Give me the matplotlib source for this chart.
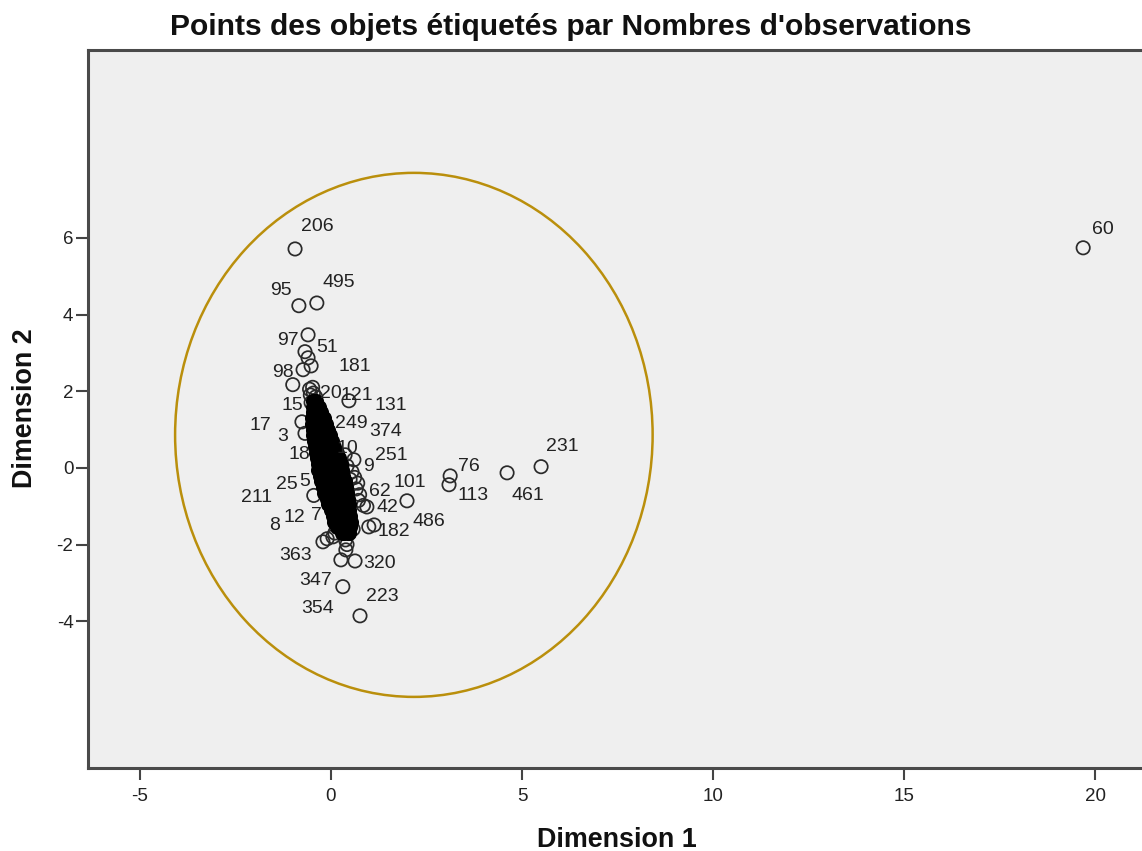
import matplotlib
matplotlib.use("Agg")
import matplotlib.pyplot as plt
from matplotlib.patches import Ellipse

plt.rcParams["font.family"] = ["Liberation Sans", "DejaVu Sans"]
plt.rcParams["axes.unicode_minus"] = False

# dense cluster, one list of x per y level, overplotted so heavily it reads as solid
core_y = [1.75, 1.6, 1.45, 1.3, 1.15, 1.0, 0.85, 0.7, 0.55, 0.4, 0.25, 0.1,
          -0.05, -0.2, -0.35, -0.5, -0.65, -0.8, -0.95, -1.1, -1.25, -1.4, -1.55, -1.7]
core_x = [
    [-0.47, -0.44, -0.38],
    [-0.47, -0.42, -0.32],
    [-0.48, -0.44, -0.35, -0.26],
    [-0.49, -0.45, -0.35, -0.25, -0.18],
    [-0.49, -0.44, -0.34, -0.24, -0.14],
    [-0.48, -0.42, -0.31, -0.2, -0.09],
    [-0.47, -0.41, -0.3, -0.19, -0.08, -0.02],
    [-0.45, -0.39, -0.28, -0.17, -0.06, 0.04],
    [-0.42, -0.36, -0.25, -0.14, -0.03, 0.08],
    [-0.39, -0.33, -0.22, -0.11, 0.0, 0.11, 0.16],
    [-0.37, -0.31, -0.2, -0.09, 0.02, 0.13, 0.2],
    [-0.35, -0.29, -0.18, -0.07, 0.04, 0.15, 0.25],
    [-0.33, -0.27, -0.16, -0.05, 0.06, 0.17, 0.28],
    [-0.29, -0.23, -0.12, -0.01, 0.1, 0.21, 0.32],
    [-0.25, -0.19, -0.08, 0.03, 0.14, 0.25, 0.36],
    [-0.21, -0.15, -0.04, 0.07, 0.18, 0.29, 0.4],
    [-0.17, -0.11, 0.0, 0.11, 0.22, 0.33, 0.42],
    [-0.11, -0.05, 0.06, 0.17, 0.28, 0.38, 0.45],
    [-0.07, -0.01, 0.1, 0.21, 0.32, 0.42, 0.48],
    [-0.01, 0.05, 0.16, 0.27, 0.37, 0.48],
    [0.05, 0.1, 0.2, 0.3, 0.4, 0.5],
    [0.09, 0.14, 0.24, 0.34, 0.44, 0.52],
    [0.15, 0.2, 0.3, 0.4, 0.5],
    [0.29, 0.34, 0.44, 0.48],
]

# points standing clear of the cluster
outer_x = [-0.94, -0.84, -0.37, -0.6, -0.68, -0.6, -0.52, -0.73, -1.0, 0.47, 19.69,
           5.5, 4.61, 3.12, 3.09, 1.99, 1.13, 0.99, 0.94, 0.85, 0.31, 0.76, 0.63, 0.26,
           -0.21, -0.1, 0.39, 0.42, 0.38, 0.6, 0.37, 0.7, 0.75, -0.76, -0.68, -0.45,
           0.55, 0.62, 0.66, 0.72, 0.58, 0.05, 0.1,
           -0.56, -0.48, -0.54, -0.46, -0.4, -0.52, 0.42, 0.5, 0.45]
outer_y = [5.71, 4.23, 4.3, 3.47, 3.03, 2.87, 2.66, 2.56, 2.17, 1.75, 5.74,
           0.03, -0.13, -0.21, -0.44, -0.86, -1.49, -1.54, -1.02, -0.98, -3.1, -3.86, -2.43, -2.4,
           -1.93, -1.85, -2.14, -2.0, -1.88, 0.21, 0.34, -0.4, -0.7, 1.2, 0.9, -0.72,
           -0.1, -0.25, -0.55, -0.85, -1.6, -1.8, -1.7,
           2.05, 2.1, 1.9, 1.95, 1.85, 1.7, 0.05, -0.3, -1.25]

label_names = ["206", "60", "95", "495", "97", "51", "181", "98", "20", "121", "15", "131",
               "17", "249", "374", "3", "10", "18", "251", "9", "76", "231", "25", "5",
               "62", "101", "211", "113", "461", "42", "486", "8", "12", "7", "182",
               "363", "320", "347", "223", "354"]
label_x = [-0.37, 20.2, -1.31, 0.21, -1.13, -0.1, 0.63, -1.26, 0.0, 0.68, -1.02, 1.57,
           -1.86, 0.52, 1.44, -1.26, 0.42, -0.84, 1.57, 0.99, 3.61, 6.05, -1.15, -0.68,
           1.28, 2.07, -1.94, 3.72, 5.16, 1.49, 2.57, -1.47, -0.97, -0.39, 1.65,
           -0.92, 1.26, -0.39, 1.34, -0.34]
label_y = [6.34, 6.28, 4.69, 4.89, 3.37, 3.18, 2.69, 2.53, 1.98, 1.93, 1.69, 1.69,
           1.15, 1.2, 0.99, 0.86, 0.55, 0.39, 0.37, 0.08, 0.08, 0.6, -0.39, -0.31,
           -0.57, -0.34, -0.73, -0.68, -0.68, -0.97, -1.36, -1.46, -1.25, -1.2, -1.62,
           -2.24, -2.45, -2.89, -3.31, -3.61]

x_ticks = [-5, 0, 5, 10, 15, 20]
y_ticks = [-4, -2, 0, 2, 4, 6]
ellipse_center = (2.17, 0.86)
ellipse_width = 12.5
ellipse_height = 13.67

W, H = 1142, 851
fig = plt.figure(figsize=(W / 100, H / 100), dpi=100, facecolor="white")
ax = fig.add_axes([88 / W, 1 - 768 / H, (W - 88) / W, (768 - 50) / H])
ax.set_facecolor("#EFEFEF")
ax.set_xlim(-6.36, 21.23)
ax.set_ylim(-7.83, 10.9)

solid_x = [x for row in core_x for x in row]
solid_y = [y for row, y in zip(core_x, core_y) for x in row]

ax.scatter(outer_x, outer_y, s=92, facecolors="none", edgecolors="#2A2A2A", linewidths=1.25, zorder=3)
ax.scatter(solid_x, solid_y, s=92, facecolors="black", edgecolors="black", linewidths=1.25, zorder=3)

ax.add_patch(Ellipse(ellipse_center, ellipse_width, ellipse_height, fill=False,
                     edgecolor="#BA8F0C", lw=1.8, zorder=4))

for name, x, y in zip(label_names, label_x, label_y):
    ax.text(x, y, name, fontsize=14, color="#222222", ha="center", va="center_baseline", zorder=5)

ax.set_xticks(x_ticks)
ax.set_yticks(y_ticks)
ax.tick_params(axis="both", length=8.5, width=1.5, color="#444444", labelsize=13.5, labelcolor="#222222")
ax.tick_params(axis="y", pad=2)
ax.tick_params(axis="x", pad=6)
for side in ["left", "bottom", "top"]:
    ax.spines[side].set_linewidth(2.2)
    ax.spines[side].set_color("#4A4A4A")
ax.spines["right"].set_visible(False)

fig.text(571 / W, 1 - 27 / H, "Points des objets étiquetés par Nombres d'observations",
         fontsize=21.6, fontweight="bold", ha="center", va="center", color="#111111")
fig.text(617 / W, 1 - 840 / H, "Dimension 1", fontsize=19.4, fontweight="bold",
         ha="center", va="center", color="#111111")
fig.text(25 / W, 1 - 408 / H, "Dimension 2", fontsize=19.4, fontweight="bold",
         ha="center", va="center", rotation=90, color="#111111")

fig.savefig("out.png", dpi=100, facecolor=fig.get_facecolor())
plt.close(fig)
